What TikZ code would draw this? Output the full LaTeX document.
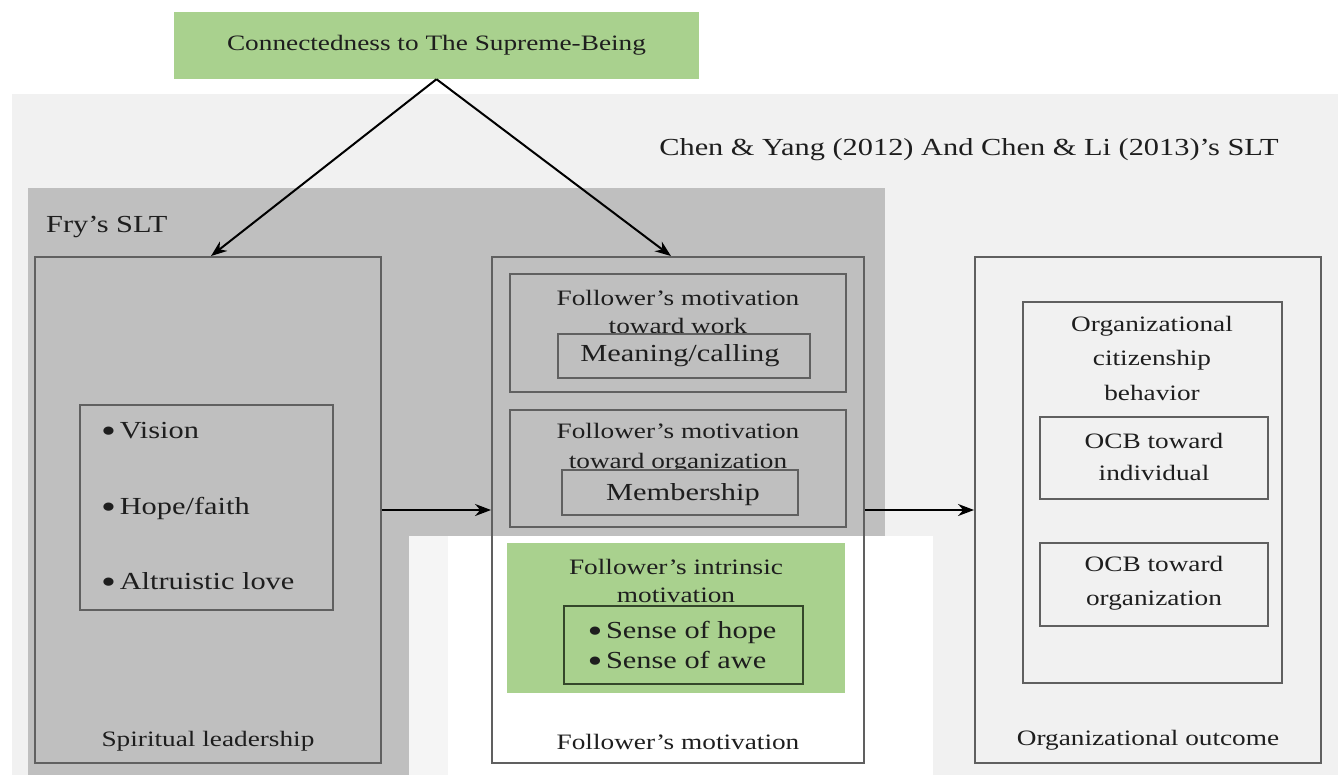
\documentclass[tikz,border=0pt]{standalone}
\usepackage{fontspec}
\usepackage{graphicx}
\setmainfont{Liberation Serif}[FakeStretch=1.24]
\usetikzlibrary{arrows.meta}
\definecolor{bglight}{HTML}{F1F1F1}
\definecolor{bgdark}{HTML}{BFBFBF}
\definecolor{boxline}{HTML}{606060}
\definecolor{greenfill}{HTML}{A9D18E}
\definecolor{greenline}{HTML}{34472A}
\definecolor{txt}{HTML}{1E1E1E}
\newcommand{\bigdot}{\raisebox{-0.17em}{\scalebox{1.4}{•}}\hspace{0.15em}}
\begin{document}
\begin{tikzpicture}[x=1pt,y=-1pt,
  frame/.style={draw=boxline,line width=1.9pt,inner sep=0pt},
  lbl/.style={font=\fontsize{22}{28}\selectfont,text=txt,align=center,inner sep=0pt},
  big/.style={font=\fontsize{24.5}{30}\selectfont,text=txt,align=center,inner sep=0pt},
  conn/.style={draw=black,line width=2pt,-{Stealth[length=16pt,width=12pt]}}]
\useasboundingbox (0,0) rectangle (1338,775);
\fill[white] (0,0) rectangle (1338,775);
\fill[bglight] (12,94) rectangle (1338,775);
\fill[bgdark] (28,188) rectangle (885,775);
\fill[white] (409,536) rectangle (933,775);
\fill[bglight!70!white] (409,536) rectangle (448,775);

\node[fill=greenfill,minimum width=525pt,minimum height=67pt,inner sep=0pt,
      font=\fontsize{22}{28}\selectfont,text=txt] (top) at (436.5,45.5) {Connectedness to The Supreme-Being};
\node[big] (chen) at (969,150) {Chen \& Yang (2012) And Chen \& Li (2013)’s SLT};
\node[big,anchor=west] (fry) at (46,227) {Fry’s SLT};

% Spiritual leadership
\node[frame,minimum width=346pt,minimum height=506pt] (sl) at (208,510) {};
\node[lbl] (sllbl) at (208,741) {Spiritual leadership};
\node[frame,minimum width=253pt,minimum height=205pt] (bul) at (206.5,507.5) {};
\node[big,align=left,anchor=west,font=\fontsize{24.5}{75.5}\selectfont] (bultxt) at (101,508) {\bigdot Vision\\\bigdot Hope/faith\\\bigdot Altruistic love};

% Follower's motivation
\node[frame,minimum width=372pt,minimum height=506pt] (fm) at (678,510) {};
\node[lbl] (fmlbl) at (678,742) {Follower’s motivation};
\node[frame,minimum width=336pt,minimum height=118pt] (work) at (678,333) {};
\node[lbl] (worktxt) at (678,312) {Follower’s motivation\\toward work};
\node[frame,fill=bgdark,minimum width=252pt,minimum height=44pt] (mean) at (684,356) {};
\node[big] (meantxt) at (680,356) {Meaning/calling};
\node[frame,minimum width=336pt,minimum height=117pt] (orgm) at (678,468.5) {};
\node[lbl,font=\fontsize{22}{30}\selectfont] (orgmtxt) at (678,448) {Follower’s motivation\\toward organization};
\node[frame,fill=bgdark,minimum width=236pt,minimum height=45pt] (memb) at (680,492.5) {};
\node[big] (membtxt) at (683,495) {Membership};
\node[fill=greenfill,minimum width=338pt,minimum height=150pt,inner sep=0pt] (intr) at (676,618) {};
\node[lbl] (intrtxt) at (676,581) {Follower’s intrinsic\\motivation};
\node[draw=greenline,line width=1.9pt,minimum width=239pt,minimum height=78pt,inner sep=0pt] (sense) at (683.5,645) {};
\node[big,align=left] (sensetxt) at (682,647) {\bigdot Sense of hope\\\bigdot Sense of awe};

% Organizational outcome
\node[frame,minimum width=346pt,minimum height=506pt] (oo) at (1148,510) {};
\node[lbl] (oolbl) at (1148,740) {Organizational outcome};
\node[frame,minimum width=259pt,minimum height=381pt] (ocb) at (1152.5,492.5) {};
\node[lbl,font=\fontsize{22}{34.5}\selectfont] (ocbtxt) at (1152,358) {Organizational\\citizenship\\behavior};
\node[frame,minimum width=228pt,minimum height=82pt] (ocbi) at (1154,458) {};
\node[lbl,font=\fontsize{22}{32}\selectfont] (ocbitxt) at (1154,457) {OCB toward\\individual};
\node[frame,minimum width=228pt,minimum height=83pt] (ocbo) at (1154,584.5) {};
\node[lbl,font=\fontsize{22}{34}\selectfont] (ocbotxt) at (1154,583) {OCB toward\\organization};

% connectors
\draw[conn] (top.south) -- ([xshift=3pt]sl.north);
\draw[conn] (top.south) -- ([xshift=-7pt]fm.north);
\draw[conn] (sl.east) -- (fm.west);
\draw[conn] (fm.east) -- (oo.west);
\end{tikzpicture}
\end{document}
